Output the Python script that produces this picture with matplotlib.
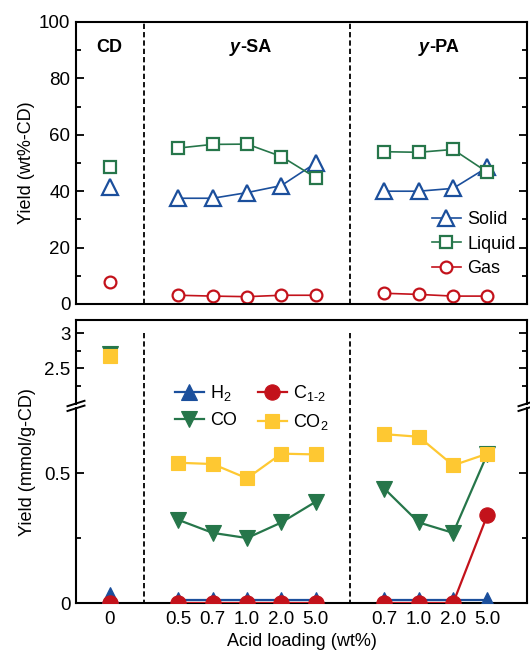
import matplotlib
matplotlib.use("Agg")
import matplotlib.pyplot as plt
import numpy as np
from matplotlib.lines import Line2D
from matplotlib.ticker import FixedLocator, NullLocator
from matplotlib.transforms import blended_transform_factory

plt.rcParams["font.family"] = ["Liberation Sans", "DejaVu Sans"]
plt.rcParams["mathtext.fontset"] = "custom"
plt.rcParams["mathtext.rm"] = "Liberation Sans"
plt.rcParams["mathtext.it"] = "Liberation Sans:italic"
plt.rcParams["mathtext.bf"] = "Liberation Sans:bold"
plt.rcParams["lines.scale_dashes"] = False

# ---------------- data ----------------
groups = ["CD", "y-SA", "y-PA"]
loadings_sa = ["0.5", "0.7", "1.0", "2.0", "5.0"]
loadings_pa = ["0.7", "1.0", "2.0", "5.0"]
cd_label = "0"

# product distribution (wt%-CD)
solid_cd = 41.5
solid_sa = [37.5, 37.5, 39.5, 42.0, 50.0]
solid_pa = [40.0, 40.0, 41.0, 48.5]
liquid_cd = 48.5
liquid_sa = [55.3, 56.6, 56.7, 52.3, 44.8]
liquid_pa = [54.0, 53.8, 54.8, 46.7]
gas_cd = 7.8
gas_sa = [3.1, 2.8, 2.6, 3.1, 3.1]
gas_pa = [3.8, 3.4, 2.8, 2.8]

# gas composition (mmol/g-CD)
h2_cd = 0.03
h2_sa = [0.01, 0.01, 0.01, 0.01, 0.01]
h2_pa = [0.01, 0.01, 0.01, 0.01]
c12_cd = 0.0
c12_sa = [0.0, 0.0, 0.0, 0.0, 0.0]
c12_pa = [0.0, 0.0, 0.0, 0.34]
co_cd = 2.70
co_sa = [0.32, 0.27, 0.25, 0.31, 0.39]
co_pa = [0.44, 0.31, 0.27, 0.575]
co2_cd = 2.68
co2_sa = [0.54, 0.535, 0.48, 0.575, 0.572]
co2_pa = [0.65, 0.64, 0.53, 0.575]

# category positions on the shared x axis
x_cd = [0]
x_sa = list(np.arange(len(loadings_sa)) + 2)
x_pa = list(np.arange(len(loadings_pa)) + 2 + len(loadings_sa) + 1)
x_div = [1, 2 + len(loadings_sa)]

BLUE = "#1b4f9c"
GREEN = "#26764a"
RED = "#c3121b"
YELLOW = "#fec832"

FS_TICK = 13.5
FS_LAB = 13
FS_LEG = 13

W, H = 530, 651
fig = plt.figure(figsize=(W / 100, H / 100), dpi=100)


def rect(l, t, r, b):
    return [l / W, 1 - b / H, (r - l) / W, (b - t) / H]


XL, XR = 76, 527
XLIM = (-0.98, 12.15)

ax_top = fig.add_axes(rect(XL, 22, XR, 304))
ax_hi = fig.add_axes(rect(XL, 320, XR, 403.7))
ax_lo = fig.add_axes(rect(XL, 408.2, XR, 603))

SPW = 1.5
for ax in (ax_top, ax_hi, ax_lo):
    ax.set_xlim(*XLIM)
    for s in ax.spines.values():
        s.set_linewidth(SPW)
    ax.tick_params(axis="y", which="both", direction="in", left=True, right=True,
                   labelsize=FS_TICK, width=1.3, pad=4)
    ax.tick_params(axis="y", which="major", length=6)
    ax.tick_params(axis="y", which="minor", length=3.5)
    ax.tick_params(axis="x", which="both", length=0)

# ---------------- top panel ----------------
ax_top.set_ylim(0, 100)
ax_top.yaxis.set_major_locator(FixedLocator([0, 20, 40, 60, 80, 100]))
ax_top.yaxis.set_minor_locator(FixedLocator([10, 30, 50, 70, 90]))
ax_top.set_xticks([])
ax_top.set_ylabel("Yield (wt%-CD)", fontsize=FS_LAB, labelpad=3)

for xv in x_div:
    ax_top.axvline(xv, color="black", lw=1.3, dashes=(3.8, 2.2))

open_kw = dict(markerfacecolor="white", markeredgewidth=1.6)
series_top = [
    ("Solid", "^", 11, BLUE, solid_cd, solid_sa, solid_pa),
    ("Liquid", "s", 8.2, GREEN, liquid_cd, liquid_sa, liquid_pa),
    ("Gas", "o", 8.5, RED, gas_cd, gas_sa, gas_pa),
]
handles_top = []
for name, mk, ms, col, vcd, vsa, vpa in series_top:
    ax_top.plot(x_cd, [vcd], marker=mk, ms=ms, color=col, ls="none", clip_on=False, **open_kw)
    h, = ax_top.plot(x_sa, vsa, marker=mk, ms=ms, color=col, lw=1.2, clip_on=False,
                     label=name, **open_kw)
    ax_top.plot(x_pa, vpa, marker=mk, ms=ms, color=col, lw=1.2, clip_on=False, **open_kw)
    handles_top.append(h)

ax_top.legend(handles=handles_top, loc="upper left", bbox_to_anchor=(432 / W, 1 - 211 / H),
              bbox_transform=fig.transFigure, frameon=False, fontsize=FS_LEG,
              handlelength=1.6, handletextpad=0.35, labelspacing=0.42, borderpad=0,
              borderaxespad=0)

# group titles
ty = 90.8
ax_top.text(x_cd[0], ty, groups[0], ha="center", va="center", fontsize=FS_LAB, fontweight="bold")
for name, xs in ((groups[1], x_sa), (groups[2], x_pa)):
    xj = np.mean(xs) - 0.2
    ax_top.text(xj, ty, name[0], ha="right", va="center", fontsize=FS_LAB,
                fontweight="bold", fontstyle="italic")
    ax_top.text(xj, ty, name[1:], ha="left", va="center", fontsize=FS_LAB, fontweight="bold")

# ---------------- bottom panel (broken axis) ----------------
ax_hi.set_ylim(1.99, 3.19)
ax_lo.set_ylim(0, 0.75)
ax_hi.spines["bottom"].set_visible(False)
ax_lo.spines["top"].set_visible(False)
ax_hi.yaxis.set_major_locator(FixedLocator([2.5, 3.0]))
ax_hi.yaxis.set_minor_locator(FixedLocator([2.25, 2.75]))
ax_hi.set_yticklabels(["2.5", "3"])
ax_lo.yaxis.set_major_locator(FixedLocator([0, 0.5]))
ax_lo.yaxis.set_minor_locator(FixedLocator([0.25]))
ax_lo.set_yticklabels(["0", "0.5"])
ax_hi.set_xticks([])
ax_hi.xaxis.set_minor_locator(NullLocator())

xt = x_cd + x_sa + x_pa
ax_lo.set_xticks(xt)
ax_lo.set_xticklabels([cd_label] + loadings_sa + loadings_pa)
ax_lo.tick_params(axis="x", labelsize=FS_TICK, pad=6)
ax_lo.set_xlabel("Acid loading (wt%)", fontsize=FS_LAB, labelpad=3)

fig.text(28 / W, 1 - 462 / H, "Yield (mmol/g-CD)", rotation=90, ha="center", va="center",
         fontsize=FS_LAB)

series_bot = [
    ("H$_2$", "^", 11, BLUE, h2_cd, h2_sa, h2_pa),
    ("C$_{1\\text{-}2}$", "o", 11, RED, c12_cd, c12_sa, c12_pa),
    ("CO", "v", 11, GREEN, co_cd, co_sa, co_pa),
    ("CO$_2$", "s", 9.5, YELLOW, co2_cd, co2_sa, co2_pa),
]
handles_bot = {}
for i, (name, mk, ms, col, vcd, vsa, vpa) in enumerate(series_bot):
    for ax in (ax_hi, ax_lo):
        ax.plot(x_cd, [vcd], marker=mk, ms=ms, color=col, ls="none", mew=0.8, zorder=3 + i)
        h, = ax.plot(x_sa, vsa, marker=mk, ms=ms, color=col, lw=1.6, mew=0.8, zorder=3 + i,
                     label=name)
        ax.plot(x_pa, vpa, marker=mk, ms=ms, color=col, lw=1.6, mew=0.8, zorder=3 + i)
    handles_bot[name] = h

order = ["H$_2$", "CO", "C$_{1\\text{-}2}$", "CO$_2$"]
ax_lo.legend([handles_bot[k] for k in order], order, ncol=2, loc="upper left",
             bbox_to_anchor=(175 / W, 1 - 383 / H), bbox_transform=fig.transFigure,
             frameon=False, fontsize=FS_LEG, handlelength=1.6, handletextpad=0.35,
             labelspacing=0.5, columnspacing=1.15, borderpad=0, borderaxespad=0)

# dashed group dividers through both segments of the broken axis
btr = blended_transform_factory(ax_lo.transData, fig.transFigure)
for xv in x_div:
    fig.add_artist(Line2D([xv, xv], [1 - 333 / H, 1 - 603 / H], transform=btr,
                          color="black", lw=1.3, dashes=(3.8, 2.2)))

# break marks on both vertical spines
for xs in (XL, XR):
    for yc in (403.5, 408.3):
        fig.add_artist(Line2D([(xs - 8.5) / W, (xs + 8.5) / W],
                              [1 - (yc + 2.7) / H, 1 - (yc - 2.7) / H],
                              transform=fig.transFigure, color="black", lw=1.4))

fig.savefig("out.png", dpi=100)
